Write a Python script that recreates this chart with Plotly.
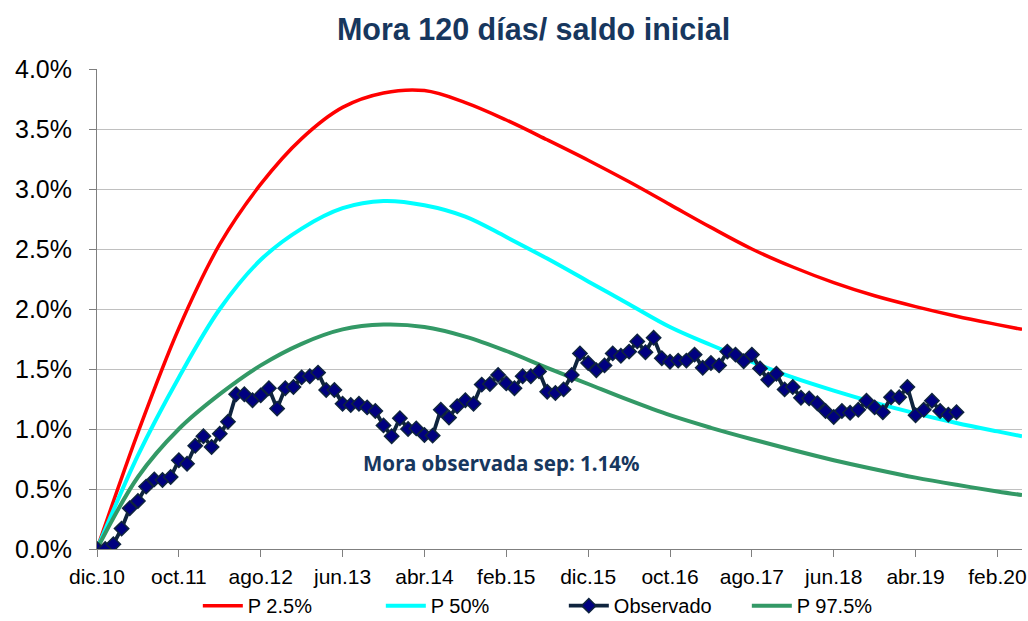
import plotly.graph_objects as go

# Month category labels (dic.10 ... may.20)
mes = ["ene", "feb", "mar", "abr", "may", "jun", "jul", "ago", "sep", "oct", "nov", "dic"]
months = []
y, m = 2010, 11
for _ in range(114):
    months.append(f"{mes[m]}.{y % 100:02d}")
    m += 1
    if m == 12:
        m = 0
        y += 1

tick_labels = ["dic.10", "oct.11", "ago.12", "jun.13", "abr.14", "feb.15",
               "dic.15", "oct.16", "ago.17", "jun.18", "abr.19", "feb.20"]

# Observed series (dic.10 .. sep.19), % values
observado = [0.00, 0.00, 0.04, 0.17, 0.34, 0.40, 0.52, 0.58, 0.575, 0.60,
             0.74, 0.71, 0.86, 0.94, 0.85, 0.96, 1.06, 1.29, 1.29, 1.24,
             1.28, 1.34, 1.17, 1.34, 1.35, 1.43, 1.44, 1.47, 1.325, 1.325,
             1.21, 1.20, 1.21, 1.18, 1.15, 1.03, 0.94, 1.09, 1.00, 1.005,
             0.95, 0.945, 1.16, 1.095, 1.19, 1.24, 1.21, 1.37, 1.375, 1.45,
             1.38, 1.34, 1.44, 1.44, 1.48, 1.31, 1.30, 1.33, 1.45, 1.63,
             1.55, 1.49, 1.53, 1.63, 1.61, 1.645, 1.73, 1.64, 1.76, 1.59,
             1.56, 1.57, 1.57, 1.62, 1.51, 1.55, 1.53, 1.645, 1.62, 1.565,
             1.62, 1.505, 1.41, 1.46, 1.33, 1.35, 1.26, 1.255, 1.215, 1.15,
             1.10, 1.15, 1.135, 1.16, 1.235, 1.18, 1.14, 1.265, 1.265, 1.35,
             1.115, 1.16, 1.235, 1.15, 1.12, 1.14]

# Percentile curves, read at sampled months
curve_idx = [0, 5, 10, 15, 20, 25, 30, 35, 40, 45, 50, 55, 60, 65, 70, 75,
             80, 85, 90, 95, 100, 105, 110, 113]
p025 = [0.0, 0.97, 1.84, 2.54, 3.04, 3.42, 3.68, 3.80, 3.82, 3.72, 3.575, 3.41,
        3.24, 3.06, 2.87, 2.68, 2.50, 2.35, 2.22, 2.11, 2.02, 1.94, 1.87, 1.83]
p50 = [0.0, 0.78, 1.43, 2.00, 2.41, 2.67, 2.84, 2.90, 2.865, 2.77, 2.60, 2.42,
       2.23, 2.04, 1.85, 1.70, 1.56, 1.43, 1.32, 1.22, 1.13, 1.05, 0.98, 0.94]
p975 = [0.0, 0.60, 1.00, 1.29, 1.53, 1.71, 1.83, 1.87, 1.85, 1.77, 1.65, 1.51,
        1.375, 1.24, 1.115, 1.01, 0.915, 0.825, 0.74, 0.665, 0.595, 0.535, 0.48, 0.45]

curve_x = [months[i] for i in curve_idx]
obs_x = months[:len(observado)]

fig = go.Figure()
fig.add_trace(go.Scatter(x=curve_x, y=p025, name="P 2.5%", mode="lines",
                         line=dict(color="#FF0000", width=3.5, shape="spline"),
                         legendrank=1))
fig.add_trace(go.Scatter(x=curve_x, y=p50, name="P 50%", mode="lines",
                         line=dict(color="#00FFFF", width=4, shape="spline"),
                         legendrank=2))
fig.add_trace(go.Scatter(x=curve_x, y=p975, name="P 97.5%", mode="lines",
                         line=dict(color="#339966", width=4, shape="spline"),
                         legendrank=4))
fig.add_trace(go.Scatter(x=obs_x, y=observado, name="Observado", mode="lines+markers",
                         line=dict(color="#0F243E", width=3.8),
                         marker=dict(symbol="diamond", size=11, color="#000080",
                                     line=dict(color="#0F243E", width=1.5)),
                         legendrank=3))

fig.update_layout(
    width=1028, height=621,
    margin=dict(l=97, r=6, t=69, b=72, autoexpand=False),
    paper_bgcolor="white", plot_bgcolor="white",
    font=dict(family="Liberation Sans, Arial, sans-serif", color="black"),
    title=dict(text="<b>Mora 120 días/ saldo inicial</b>", x=0.519, xanchor="center",
               y=0.952, yanchor="middle",
               font=dict(size=30.5, color="#17375E", family="Liberation Sans, Arial, sans-serif")),
    showlegend=True,
    legend=dict(orientation="h", x=0.109, xanchor="left", y=-0.118, yanchor="middle",
                font=dict(size=20), traceorder="normal", itemwidth=40,
                entrywidth=128, entrywidthmode="pixels", bgcolor="rgba(0,0,0,0)"),
    annotations=[dict(text="<b>Mora observada sep: 1.14%</b>", xref="paper", yref="paper",
                      x=0.437, y=0.179, xanchor="center", yanchor="middle", showarrow=False,
                      font=dict(size=20.5, color="#17375E", family="Noto Sans, Arial, sans-serif"))],
)

fig.update_xaxes(type="category", categoryorder="array", categoryarray=months,
                 range=[0, len(months) - 1], tickmode="array", tickvals=tick_labels,
                 ticktext=tick_labels, ticks="outside", ticklen=7, tickcolor="#7F7F7F",
                 showline=True, linecolor="#7F7F7F", linewidth=1, showgrid=False,
                 tickfont=dict(size=21), zeroline=False, automargin=False,
                 ticklabeloverflow="allow", ticklabelstandoff=2)
fig.update_yaxes(range=[0, 4.0], dtick=0.5, tickformat=".1f", ticksuffix="%",
                 ticks="outside", ticklen=7, tickcolor="#7F7F7F",
                 showline=True, linecolor="#7F7F7F", linewidth=1,
                 showgrid=True, gridcolor="#C0C0C0", gridwidth=1,
                 tickfont=dict(size=25), zeroline=False, automargin=False,
                 ticklabelstandoff=12)

fig.write_html("out.html", config={"displayModeBar": False},
               post_script="document.body.style.margin='0';"
                           "document.body.style.overflow='hidden';")
